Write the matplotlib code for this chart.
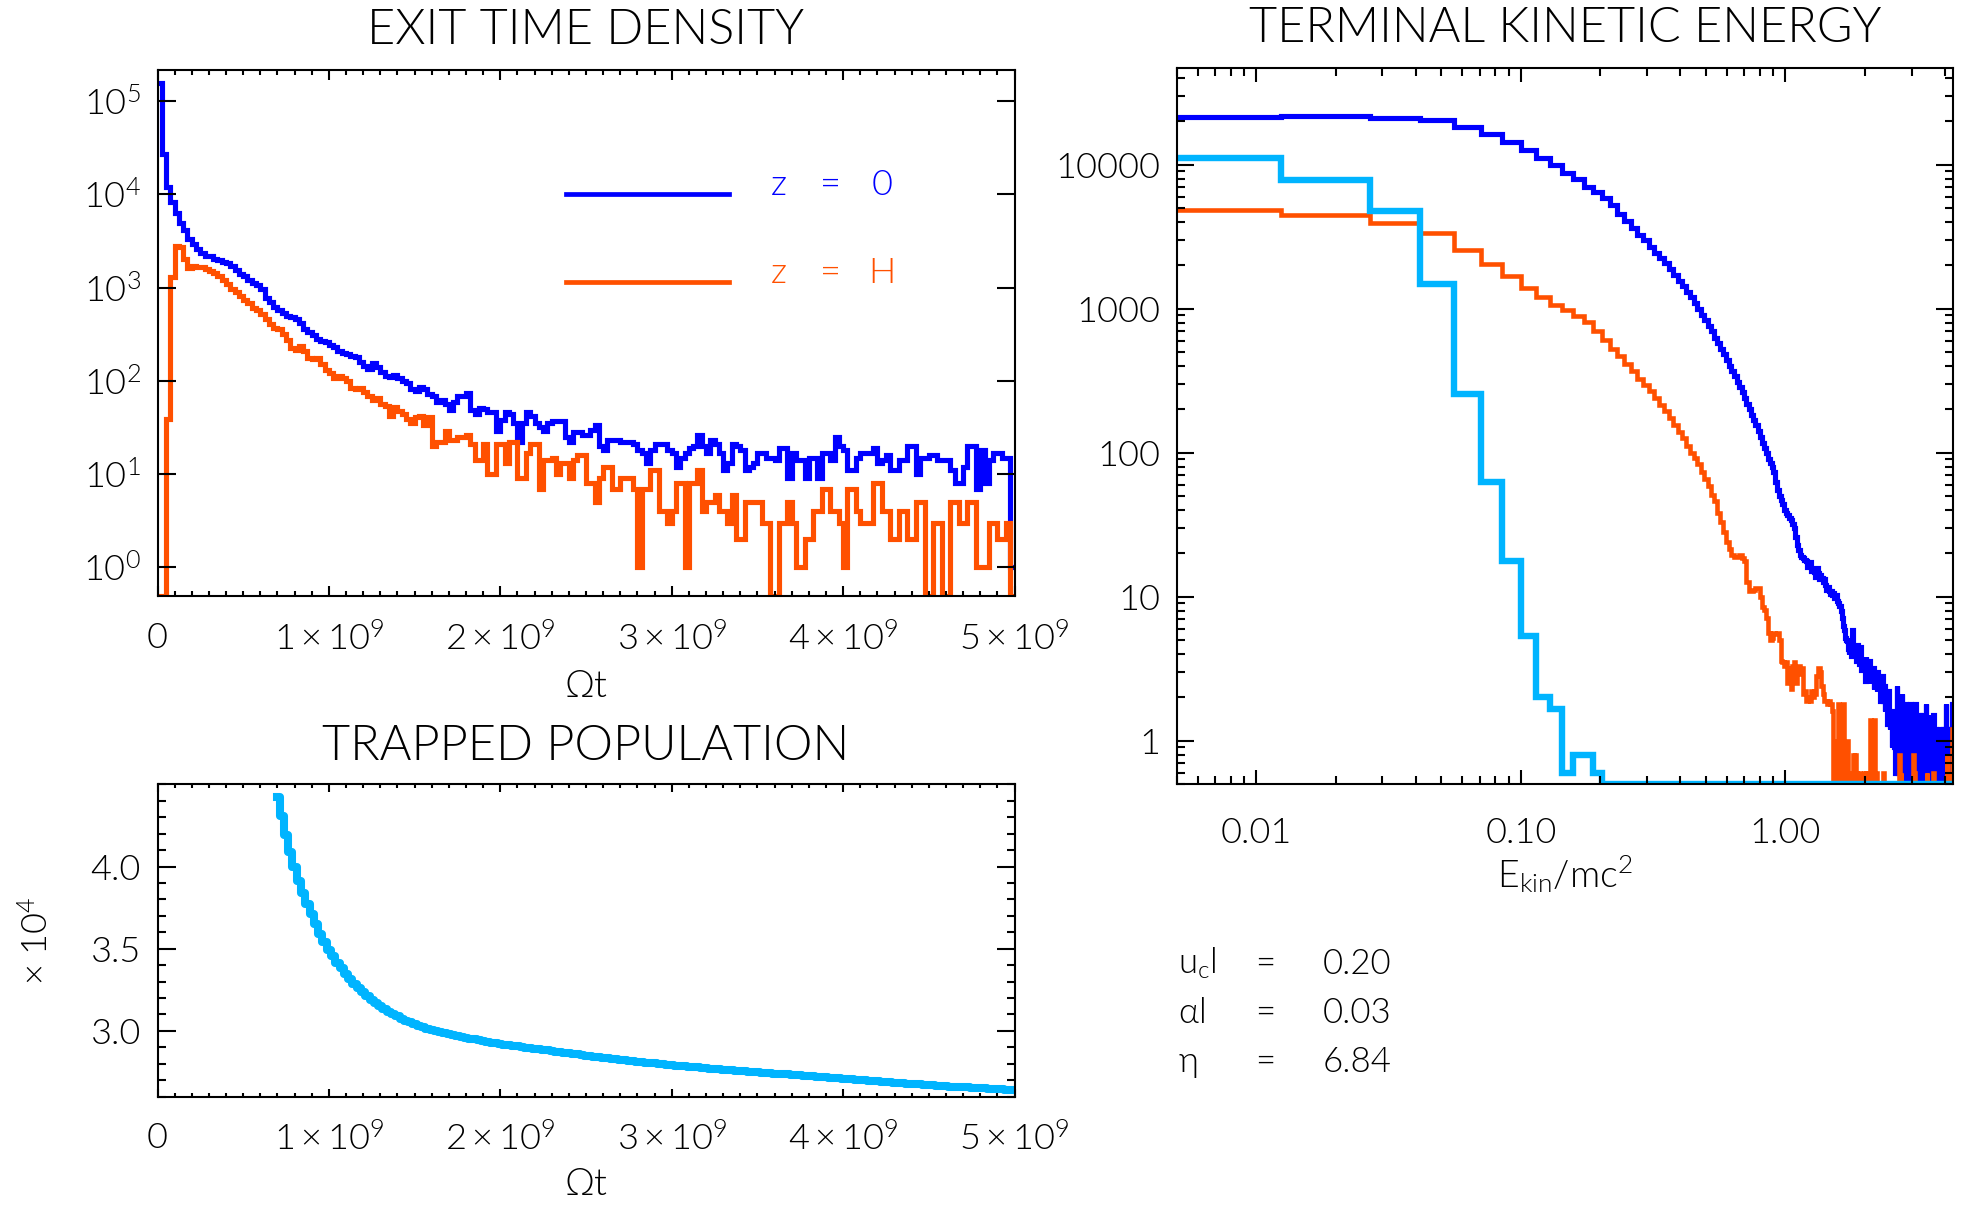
import numpy as np
import matplotlib
matplotlib.use("Agg")
import matplotlib.pyplot as plt
from matplotlib.ticker import FixedLocator, MultipleLocator, LogLocator, NullLocator, NullFormatter

plt.rcParams['font.family'] = ['Lato', 'DejaVu Sans']
plt.rcParams['font.weight'] = 300
plt.rcParams['mathtext.fontset'] = 'custom'
plt.rcParams['mathtext.rm'] = 'Lato:weight=300'
plt.rcParams['mathtext.it'] = 'Lato:italic:weight=300'
plt.rcParams['mathtext.sf'] = 'Lato:weight=300'
plt.rcParams['mathtext.default'] = 'regular'
plt.rcParams['axes.linewidth'] = 1.5

BLUE = '#0000ff'
ORANGE = '#ff5000'
CYAN = '#00b4ff'

#%%----------------------------------------------------------------------------
# exit time histograms, bins of 2.5e7 starting at 0
t_bin = 2.5e7
exit_z0 = [155000, 26900, 12000, 8180, 6310, 4900, 4120, 3310, 2920, 2570,
           2370, 2190, 2150, 2040, 1950, 1880, 1840, 1700, 1550, 1380,
           1320, 1200, 1120, 1070, 955, 776, 708, 617, 575, 537,
           490, 479, 457, 417, 363, 331, 309, 282, 269, 263,
           240, 229, 209, 200, 195, 186, 178, 158, 145, 135,
           155, 141, 123, 112, 110, 115, 107, 100, 95, 81,
           78, 85, 81, 72, 68, 60, 63, 56, 49, 60,
           68, 68, 74, 49, 44, 51, 50, 46, 46, 29,
           38, 46, 44, 35, 22, 35, 46, 42, 35, 32,
           29, 35, 37, 37, 37, 25, 22, 28, 28, 26,
           26, 30, 34, 20, 18, 23, 23, 23, 22, 22,
           22, 21, 18, 17, 13, 18, 21, 21, 21, 18,
           17, 12, 15, 17, 19, 20, 26, 20, 17, 23,
           21, 17, 11, 13, 21, 20, 18, 11, 12, 13,
           17, 17, 15, 15, 14, 19, 19, 9, 17, 14,
           14, 9, 15, 15, 9, 17, 17, 14, 25, 20,
           18, 11, 11, 15, 17, 17, 17, 19, 13, 14,
           16, 11, 11, 14, 14, 20, 20, 10, 15, 15,
           16, 16, 14, 14, 14, 11, 8, 8, 12, 20,
           20, 7, 18, 8, 14, 17, 17, 15, 15, 1]
exit_zH = [0, 0, 39, 1300, 2800, 2700, 2000, 1620, 1700, 1660,
           1660, 1580, 1510, 1445, 1320, 1200, 1100, 955, 890, 810,
           740, 676, 603, 575, 525, 457, 407, 372, 355, 316,
           275, 224, 214, 234, 209, 174, 170, 174, 151, 129,
           120, 107, 112, 107, 99, 83, 81, 83, 76, 69,
           62, 66, 56, 54, 42, 52, 48, 44, 39, 35,
           41, 42, 34, 41, 20, 22, 22, 29, 23, 23,
           25, 25, 26, 21, 14, 14, 21, 10, 10, 21,
           21, 13, 22, 22, 9, 9, 17, 21, 21, 7,
           14, 14, 15, 10, 13, 13, 9, 14, 16, 16,
           8, 8, 5, 9, 12, 12, 7, 7, 9, 9,
           9, 7, 1, 7, 7, 11, 11, 4, 4, 3,
           4, 8, 8, 1, 8, 8, 11, 4, 5, 5,
           6, 4, 4, 3, 6, 2, 2, 5, 5, 5,
           5, 3, 3, 0, 0, 3, 3, 5, 3, 1,
           1, 2, 2, 4, 4, 7, 7, 4, 4, 3,
           1, 7, 7, 4, 3, 3, 3, 8, 8, 4,
           4, 2, 2, 4, 4, 2, 2, 5, 5, 0,
           0, 3, 3, 0, 0, 5, 5, 3, 3, 5,
           5, 1, 1, 1, 3, 3, 2, 2, 3, 0]

#%%----------------------------------------------------------------------------
# terminal kinetic energy histograms, linear bins in E
e_min = 0.005        # lower end of the first bin
e_first = 0.0124     # upper edge of the first bin
e_width = 0.01457
ekin_z0 = [21500, 21850, 21050, 20300, 18400, 16470, 14300, 12690, 11190, 10000,
           8810, 7940, 7050, 6450,
           5890, 5250, 4570, 4050, 3630, 3270, 2985, 2690, 2455, 2240, 2065, 1885, 1720,
           1567, 1429, 1303, 1202, 1096, 1000, 902, 832, 759, 700, 631, 575, 525, 484, 442,
           403, 372, 339, 309, 285, 263, 240, 219, 200, 182, 170, 155, 141, 129, 116, 107,
           99, 91, 85, 79, 74,
           63, 55, 50, 47, 44, 40, 38, 37, 35, 34, 32, 30, 26, 23, 21, 19.5, 19, 18.6, 18,
           17.8, 16, 16.6, 17.4, 15, 15.5, 14.8, 13.8, 15.8, 14.5, 13.2, 14.1, 13.5, 12.6,
           13.2, 12, 11.2, 11.7, 11, 10.5,
           10.9, 10.2, 10.6, 9.8, 9.8, 10.2, 9.3, 9.1, 8.6, 7.9, 7.1, 6.3, 5.9, 5.2, 5.0,
           4.9, 4.3, 4.0, 4.7, 4.6, 3.9, 5.9, 4.2, 4.5, 4.4, 3.6, 4.6, 3.9, 3.4, 3.9,
           4.5, 3.1, 3.6, 3.3, 3.3, 2.6, 3.8, 3.4, 2.8, 3.1, 3.6, 2.5, 2.9, 2.7, 2.7,
           3.2, 2.3, 2.6, 2.9, 2.5, 2.2, 3.0, 2.4, 2.6, 2.5, 1.9, 2.3, 2.8, 2.0, 1.9,
           2.4, 1.6, 2.0, 1.8, 1.8, 1.3, 2.2, 1.5, 1.2, 1.4, 1.6, 0.9, 1.3, 1.1, 1.0,
           0.9, 1.5, 0.6, 1.2, 2.4, 0.9, 0.6, 1.8, 1.2, 0.0,
           1.5, 0.9, 2.1, 0.6, 1.2, 0.9, 0.0, 1.2, 1.8, 0.6,
           0.9, 1.5, 0.6, 0.0, 1.2, 0.9, 1.8, 0.6, 1.2, 0.0,
           0.9, 1.5, 0.6, 1.2, 0.6, 0.0, 1.8, 0.9, 0.6, 1.2,
           0.9, 0.0, 0.6, 1.5, 0.9, 0.6, 1.2, 0.0, 0.9, 1.5,
           0.6, 0.9, 0.0, 1.2, 0.6, 0.9, 1.8, 0.6, 0.0, 0.9,
           1.2, 0.6, 0.9, 0.0, 1.5, 0.6, 0.9, 0.6, 1.2, 0.0,
           0.9, 0.6, 1.5, 0.9, 0.0, 0.6, 1.2, 0.6, 0.9, 0.0,
           0.6, 1.2, 0.9, 0.0, 0.6, 0.9, 0.6, 1.2, 0.0, 0.9,
           0.6, 0.6, 0.9, 0.0, 1.2, 0.6, 0.9, 0.0, 0.6, 0.9,
           1.8, 1.2, 0.6, 0.9, 0.0, 0.6, 1.2, 0.9, 0.6, 0.0,
           0.9, 0.6, 1.2, 0.6, 0.9, 1.5, 1.8, 1.2, 0.9]
ekin_zH = [4860, 4480, 3945, 3350, 2560, 2050, 1675, 1390, 1197, 1070,
           973, 889, 813, 700,
           603, 528, 468, 412, 367, 324, 295, 269, 240, 216, 195, 174, 155,
           140, 126, 112, 100, 92, 83, 74, 66, 59, 51, 46, 38, 33, 28, 24,
           21.4, 19.5, 19, 19, 19.5, 18.6, 17.8, 12.6, 11, 11, 11.2, 11.5, 11.5, 10,
           8.5, 8.1, 7.1, 5.6, 5.0, 5.2, 5.6,
           5.5, 5.6, 5.0, 3.6, 3.5, 3.3, 3.5, 2.5, 3.2, 2.3,
           3.3, 3.5, 2.5, 3.2, 3.3, 2.9, 3.2, 2.1, 2.2, 1.9,
           1.9, 2.0, 1.9, 2.2, 2.0, 2.2, 2.1, 2.8, 3.2, 3.2,
           3.0, 2.4, 2.1, 1.9, 1.9, 1.9, 1.8, 1.9, 1.8, 1.8,
           1.6,
           0, 0, 0.6, 0, 1.0, 1.8, 1.0, 0, 1.0, 1.8, 0.6, 0, 0, 1.0, 0, 0,
           0, 0.6, 0, 0, 0.8, 0, 0.8, 0.6, 0, 0, 0.6, 0, 0, 0, 0, 0,
           0.6, 0, 0, 0.6, 0, 0, 0, 1.0, 1.4, 0.6, 0, 0, 0, 1.4, 0, 0.6,
           0, 0, 0, 0, 0, 0, 0, 0, 0, 0.6, 0, 0, 0, 0, 0, 0,
           0, 0, 0, 0, 0, 0, 0, 0, 0, 0, 0, 0, 0, 0, 0, 0,
           0, 0.8, 0, 0.6, 0, 0, 0, 0, 0, 0, 0, 0, 0, 0, 0, 0,
           0, 0, 0, 0, 0, 0, 0, 0, 0, 0.8, 0, 0.6, 0, 0, 0, 0,
           0, 0, 0, 0, 0, 0, 0, 0, 0, 0, 0, 0, 0, 0, 0, 0,
           0, 0, 0, 0.6, 0, 0, 0, 0, 0, 0, 0, 0, 0, 0, 0, 0,
           0, 0.6, 0, 0, 0, 0, 0, 0, 0, 0, 0, 0, 0, 0, 0, 0,
           0, 0, 0, 0, 0, 0, 0, 0, 0, 0, 0, 0, 0, 0, 0, 0,
           0.8, 0, 0, 0, 0, 0, 0, 0, 0, 0.6, 0, 0, 0, 1.2, 0, 0]
ekin_trap = [11200, 7800, 4750, 1475, 255, 63, 17.8, 5.3, 2.0, 1.65,
             0.6, 0.8, 0.8, 0.6] + [0.0] * 282

#%%----------------------------------------------------------------------------
# trapped population (units of 1e4), sampled every 2.5e7 from 0.7e9
trap_t0 = 0.7e9
trap_dt = 2.5e7
trapped = [4.42, 4.31, 4.19, 4.09, 4.00, 3.91, 3.84, 3.77, 3.71, 3.65,
           3.59, 3.54, 3.495, 3.455, 3.415, 3.38, 3.345, 3.315, 3.285, 3.26,
           3.235, 3.21, 3.19, 3.17, 3.15, 3.133, 3.117, 3.102, 3.088, 3.075,
           3.063, 3.052, 3.041, 3.031, 3.022, 3.014, 3.007, 3.000, 2.994, 2.988,
           2.982, 2.976, 2.970, 2.964, 2.958, 2.953, 2.948, 2.943, 2.938, 2.933,
           2.928, 2.924,
           2.920, 2.916, 2.913, 2.909, 2.906, 2.902, 2.899, 2.895, 2.892, 2.888,
           2.885, 2.881, 2.878, 2.874, 2.871, 2.867, 2.864, 2.860, 2.857, 2.853,
           2.850, 2.847, 2.843, 2.840, 2.837, 2.834, 2.830, 2.827, 2.824, 2.821,
           2.818, 2.815, 2.812, 2.810, 2.807, 2.804, 2.802, 2.799, 2.797, 2.794,
           2.792, 2.789, 2.787, 2.785, 2.783, 2.780, 2.778, 2.776, 2.774, 2.771,
           2.769, 2.767, 2.765, 2.763, 2.761, 2.759, 2.757, 2.755, 2.753, 2.751,
           2.749, 2.747, 2.745, 2.743, 2.741, 2.739, 2.738, 2.736, 2.734, 2.732,
           2.730, 2.728, 2.726, 2.724, 2.722, 2.720, 2.718, 2.716, 2.714, 2.712,
           2.710, 2.708, 2.706, 2.704, 2.702, 2.700, 2.698, 2.696, 2.694, 2.692,
           2.690, 2.688, 2.686, 2.684, 2.682, 2.680, 2.678, 2.676, 2.675, 2.673,
           2.671, 2.669, 2.667, 2.666, 2.664, 2.662, 2.661, 2.659, 2.657, 2.656,
           2.654, 2.653, 2.651, 2.650, 2.648, 2.647, 2.645, 2.644, 2.642, 2.641]

t_ticks = [0, 1e9, 2e9, 3e9, 4e9, 5e9]
t_labels = ['0'] + [r'$%d\times10^{9}$' % k for k in range(1, 6)]
exit_ticks = [1, 10, 100, 1e3, 1e4, 1e5]
exit_labels = [r'$10^{%d}$' % k for k in range(6)]
e_ticks = [0.01, 0.1, 1.0]
e_labels = ['0.01', '0.10', '1.00']
n_ticks = [1, 10, 100, 1000, 10000]
n_labels = ['1', '10', '100', '1000', '10000']
pop_ticks = [3.0, 3.5, 4.0]
pop_labels = ['3.0', '3.5', '4.0']

params = [(r'u$_c$l', '0.20'), (r'$\alpha$l', '0.03'), (r'$\eta$', '6.84')]

#%%----------------------------------------------------------------------------
W, H = 1967, 1209
fig = plt.figure(figsize=(W / 100, H / 100), dpi=100)


def box(x0, y0, x1, y1):
    return [x0 / W, 1 - y1 / H, (x1 - x0) / W, (y1 - y0) / H]


def ftext(x, y, s, **kw):
    kw.setdefault('ha', 'center')
    kw.setdefault('va', 'center')
    return fig.text(x / W, 1 - y / H, s, **kw)


ax1 = fig.add_axes(box(157.5, 69.7, 1014.5, 595.5))
ax2 = fig.add_axes(box(1176.6, 68.4, 1953.3, 784.0))
ax3 = fig.add_axes(box(157.5, 784.3, 1014.5, 1096.7))

# exit time density
ylo1 = 0.5
t_edges = t_bin * np.arange(len(exit_z0) + 1)
ax1.stairs(np.maximum(exit_z0, ylo1), t_edges, color=BLUE, lw=3.7, baseline=None)
t_edges = t_bin * np.arange(len(exit_zH) + 1)
ax1.stairs(np.maximum(exit_zH, ylo1), t_edges, color=ORANGE, lw=3.7, baseline=None)
ax1.set_xlim(0, 5e9)
ax1.set_yscale('log')
ax1.set_ylim(ylo1, 2.16e5)
ax1.xaxis.set_major_locator(FixedLocator(t_ticks))
ax1.set_xticklabels(t_labels)
ax1.xaxis.set_minor_locator(MultipleLocator(1e8))
ax1.yaxis.set_major_locator(FixedLocator(exit_ticks))
ax1.set_yticklabels(exit_labels)
ax1.yaxis.set_minor_locator(NullLocator())
ax1.tick_params(which='both', direction='in', top=True, right=True, width=1.5, labelsize=26)
ax1.tick_params(axis='x', which='major', length=7.5, pad=19)
ax1.tick_params(axis='x', which='minor', length=3.8)
ax1.tick_params(axis='y', which='major', length=13, pad=12)

# legend drawn by hand: line, then coloured text
for yl, yt, col, lab in [(194, 195, BLUE, '0'), (282.3, 283, ORANGE, 'H')]:
    fig.add_artist(plt.Line2D([566 / W, 729 / W], [1 - yl / H] * 2, color=col, lw=3.4))
    ftext(779, yt, 'z', color=col, fontsize=26, va='baseline')
    ftext(830, yt, '=', color=col, fontsize=26, va='baseline')
    ftext(882, yt, lab, color=col, fontsize=26, va='baseline')

# terminal kinetic energy
ylo2 = 0.5
for vals, col, lw in [(ekin_z0, BLUE, 3.7), (ekin_zH, ORANGE, 3.3), (ekin_trap, CYAN, 4.6)]:
    edges = e_first + e_width * np.arange(-1, len(vals))
    edges[0] = e_min
    ax2.stairs(np.maximum(vals, ylo2), edges, color=col, lw=lw, baseline=None)
ax2.set_xscale('log')
ax2.set_yscale('log')
ax2.set_xlim(e_min, 4.31)
ax2.set_ylim(ylo2, 4.67e4)
ax2.xaxis.set_major_locator(FixedLocator(e_ticks))
ax2.set_xticklabels(e_labels)
ax2.xaxis.set_minor_locator(LogLocator(base=10, subs=np.arange(2, 10), numticks=50))
ax2.xaxis.set_minor_formatter(NullFormatter())
ax2.yaxis.set_major_locator(FixedLocator(n_ticks))
ax2.set_yticklabels(n_labels)
ax2.yaxis.set_minor_locator(LogLocator(base=10, subs=np.arange(2, 10), numticks=50))
ax2.yaxis.set_minor_formatter(NullFormatter())
ax2.tick_params(which='both', direction='in', top=True, right=True, width=1.5, labelsize=26)
ax2.tick_params(axis='x', which='major', length=10, pad=24)
ax2.tick_params(axis='x', which='minor', length=5.8)
ax2.tick_params(axis='y', which='major', length=12, pad=12)
ax2.tick_params(axis='y', which='minor', length=5.8)

# trapped population
trap_t = trap_t0 + trap_dt * np.arange(len(trapped))
ax3.plot(trap_t, trapped, drawstyle='steps-mid', color=CYAN, lw=5.8)
ax3.set_xlim(0, 5e9)
ax3.set_ylim(2.6, 4.5)
ax3.xaxis.set_major_locator(FixedLocator(t_ticks))
ax3.set_xticklabels(t_labels)
ax3.xaxis.set_minor_locator(MultipleLocator(1e8))
ax3.yaxis.set_major_locator(FixedLocator(pop_ticks))
ax3.set_yticklabels(pop_labels)
ax3.yaxis.set_minor_locator(MultipleLocator(0.1))
ax3.tick_params(which='both', direction='in', top=True, right=True, width=1.5, labelsize=26)
ax3.tick_params(axis='x', which='major', length=6, pad=18)
ax3.tick_params(axis='x', which='minor', length=3)
ax3.tick_params(axis='y', which='major', length=12.8, pad=12)
ax3.tick_params(axis='y', which='minor', length=5.8)

# titles and axis names
ftext(586, 30, 'EXIT TIME DENSITY', fontsize=35)
ftext(1565, 28, 'TERMINAL KINETIC ENERGY', fontsize=35)
ftext(586, 746, 'TRAPPED POPULATION', fontsize=35)
ftext(586, 687, r'$\Omega$t', fontsize=27)
ftext(586, 1185, r'$\Omega$t', fontsize=27)
ftext(1565, 874, r'E$_{kin}$/mc$^2$', fontsize=27)
ftext(37, 941, r'$\times$ 10$^4$', fontsize=26, rotation=90)

# run parameters
for i, (name, val) in enumerate(params):
    yb = 974 + 49 * i
    ftext(1178, yb, name, fontsize=25, ha='left', va='baseline')
    ftext(1265, yb, '=', fontsize=25, va='baseline')
    ftext(1323, yb, val, fontsize=25, ha='left', va='baseline')

fig.savefig('out.png', dpi=100)
